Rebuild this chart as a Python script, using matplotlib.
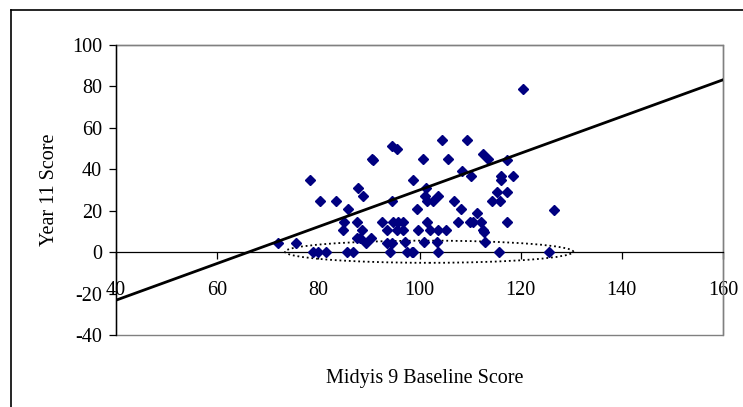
import numpy as np
import matplotlib
matplotlib.use('Agg')
import matplotlib.pyplot as plt
from matplotlib.patches import Ellipse, Rectangle
from matplotlib.lines import Line2D

plt.rcParams['font.family'] = ['Liberation Serif', 'DejaVu Serif']
plt.rcParams['axes.unicode_minus'] = False

# Midyis baseline score vs year 11 score
midyis = [120.4, 104.5, 109.3, 100.6, 105.7, 112.6, 113.6, 117.2, 98.7, 108.5,
          110.1, 116.1, 116.1, 118.4, 115.3, 117.2, 114.4, 115.9, 101.3, 101.1,
          101.4, 102.7, 103.7, 106.8, 99.5, 108.2, 126.5, 111.3, 101.5, 107.7,
          110.0, 110.5, 112.2, 117.2, 112.5, 112.8, 96.8, 99.8, 102.0, 103.6,
          105.2, 95.6, 96.8, 97.1, 100.8, 103.4, 113.0, 97.5, 98.5, 103.7,
          115.8, 125.7, 78.4, 80.3, 83.4, 85.9, 87.9, 88.8, 90.6, 90.9,
          94.5, 95.5, 94.5, 85.1, 84.8, 87.6, 88.6, 93.5, 92.5, 94.8,
          95.8, 87.6, 88.2, 89.4, 90.4, 93.5, 94.5, 72.1, 75.5, 78.9,
          80.0, 81.5, 85.7, 86.8, 94.2, 98.8]
year11 = [79.0, 54.0, 54.0, 45.0, 45.0, 47.3, 44.8, 44.4, 34.6, 39.3,
          36.7, 36.7, 34.6, 36.7, 29.1, 29.1, 24.8, 24.8, 30.8, 27.0,
          24.8, 24.8, 27.0, 24.8, 20.6, 20.6, 20.5, 18.7, 14.6, 14.6,
          14.6, 14.6, 14.6, 14.6, 10.9, 9.8, 14.6, 10.6, 10.6, 10.6,
          10.6, 10.6, 10.6, 4.7, 4.7, 4.7, 4.7, 0.3, 0.3, 0.3,
          0.3, 0.3, 34.6, 24.8, 24.8, 20.6, 30.8, 27.0, 45.2, 44.4,
          51.2, 49.6, 24.8, 14.6, 10.6, 14.6, 10.6, 10.6, 14.6, 14.6,
          14.6, 6.6, 6.6, 4.5, 6.6, 4.5, 4.5, 4.2, 4.2, 0.3,
          0.3, 0.3, 0.3, 0.3, 0.3, 0.3]

# linear trend line end points
trend_x = [40, 160]
trend_y = [-23.2, 83.2]

# dotted ellipse round the zero scores
ring_center = (101.9, 0.2)
ring_width = 57.0
ring_height = 10.7

x_ticks = np.arange(40, 161, 20)
y_ticks = np.arange(-40, 101, 20)

fig = plt.figure(figsize=(7.43, 4.07), dpi=100)
ax = fig.add_axes([116/743, 1-335/407, (723-116)/743, (335-45)/407])

ax.plot(midyis, year11, linestyle='none', marker='D', markersize=5.2,
        color='#000080', zorder=3)
ax.plot(trend_x, trend_y, color='black', linewidth=2.0, zorder=4)
ax.add_patch(Ellipse(ring_center, ring_width, ring_height, fill=False,
                     edgecolor='black', linewidth=1.3, linestyle=(0, (1, 1.6)), zorder=2))

ax.set_xlim(40, 160)
ax.set_ylim(-40, 100)
ax.set_xticks(x_ticks)
ax.set_yticks(y_ticks)

# x axis runs through zero, grey frame round the plot area
ax.spines['bottom'].set_position(('data', 0))
ax.spines['bottom'].set_color('black')
ax.spines['bottom'].set_linewidth(0.9)
ax.spines['left'].set_color('black')
ax.spines['left'].set_linewidth(1.0)
ax.spines['left'].set_zorder(5)
for side in ['top', 'right']:
    ax.spines[side].set_color('#808080')
    ax.spines[side].set_linewidth(1.0)
ax.add_patch(Rectangle((0, 0), 1, 1, transform=ax.transAxes, fill=False,
                       edgecolor='#808080', linewidth=1.0, clip_on=False, zorder=1))

ax.tick_params(axis='x', direction='out', length=5, width=0.9, pad=16, labelsize=14.5)
ax.tick_params(axis='y', direction='out', length=5, width=0.9, pad=5, labelsize=14.5)

fig.text(50/743, 1-190/407, 'Year 11 Score', rotation=90, ha='center', va='center', fontsize=14.5)
fig.text(425/743, 1-378/407, 'Midyis 9 Baseline Score', ha='center', va='center', fontsize=14.5)

# chart border
fig.add_artist(Line2D([11/743, 1], [1-10/407, 1-10/407], color='black', linewidth=1.2))
fig.add_artist(Line2D([11/743, 11/743], [0, 1-10/407], color='black', linewidth=1.2))

fig.savefig('out.png', dpi=100)
